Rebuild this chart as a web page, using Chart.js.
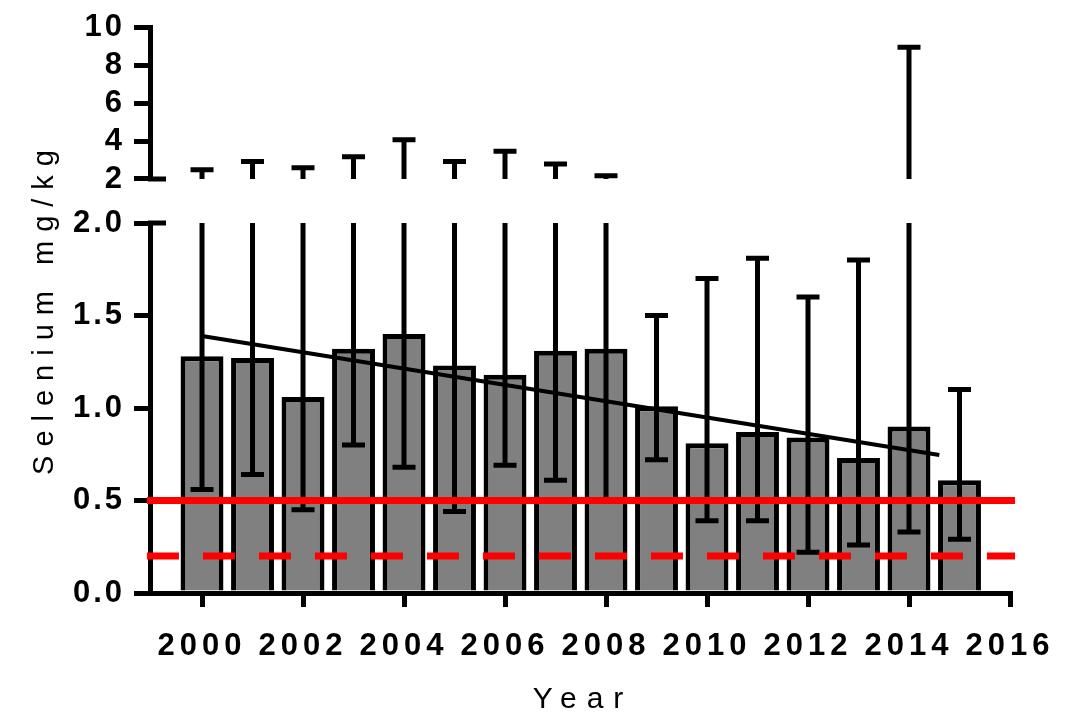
<!DOCTYPE html>
<html>
<head>
<meta charset="utf-8">
<script src="https://cdn.jsdelivr.net/npm/chart.js@4.4.1/dist/chart.umd.min.js"></script>
<style>
  html, body { margin: 0; padding: 0; background: #fff; }
  #wrap { position: relative; width: 1066px; height: 721px; }
  canvas { position: absolute; left: 0; top: 0; }
</style>
</head>
<body>
<div id="wrap">
  <canvas id="lowerChart" width="1066" height="721"></canvas>
  <canvas id="upperChart" width="1066" height="721"></canvas>
</div>
<script>
const years = [2000, 2001, 2002, 2003, 2004, 2005, 2006, 2007, 2008, 2009, 2010, 2011, 2012, 2013, 2014, 2015];
const selenium = [1.28, 1.27, 1.06, 1.32, 1.40, 1.23, 1.18, 1.31, 1.32, 1.01, 0.81, 0.87, 0.84, 0.73, 0.90, 0.61];
const errLow = [0.56, 0.64, 0.45, 0.80, 0.68, 0.44, 0.69, 0.61, 0.50, 0.72, 0.39, 0.39, 0.22, 0.26, 0.33, 0.29];
const errHigh = [2.49, 2.92, 2.60, 3.17, 4.08, 2.92, 3.46, 2.79, 2.17, 1.50, 1.70, 1.81, 1.60, 1.80, 8.96, 1.10];

const trendYears = [2000, 2014.6];
const trendValues = [1.389, 0.746];

const limitYears = [1998.91, 2016.1];
const limitSolid = 0.5;
const limitDashed = 0.2;

const xTicks = [2000, 2002, 2004, 2006, 2008, 2010, 2012, 2014, 2016];
const yTicksLow = [0, 0.5, 1.0, 1.5, 2.0];
const yTicksHigh = [2, 4, 6, 8, 10];

const X_MIN = 1998.97;
const X_MAX = 2016;
const FONT = '"Liberation Sans", Arial, sans-serif';

Chart.defaults.font.family = FONT;
Chart.defaults.color = '#000';

// wrap a scale's draw method so its text gets letter spacing
function spaced(scale, method, ls, dx, dy) {
  const orig = scale[method];
  scale[method] = function (...args) {
    const ctx = this.ctx;
    ctx.save();
    ctx.letterSpacing = ls + 'px';
    ctx.translate(dx, dy);
    orig.apply(this, args);
    ctx.restore();
  };
}

const spacingPlugin = {
  id: 'spacing',
  beforeDraw(chart) {
    if (chart._spaced) return;
    chart._spaced = true;
    const x = chart.scales.x, y = chart.scales.y;
    spaced(x, 'drawLabels', 5, 0, 0);
    spaced(x, 'drawTitle', 10, 3, 0);
    spaced(y, 'drawLabels', 3, 0, 0);
    spaced(y, 'drawTitle', 9, 0, -100);
  }
};

function drawErrors(chart) {
  const ctx = chart.ctx;
  const xs = chart.scales.x, ys = chart.scales.y;
  ctx.save();
  ctx.strokeStyle = '#000';
  ctx.lineWidth = 5;
  years.forEach((yr, i) => {
    const x = xs.getPixelForValue(yr);
    const lo = Math.max(errLow[i], ys.min);
    const hi = Math.min(errHigh[i], ys.max);
    if (hi <= lo) return;
    const yLo = ys.getPixelForValue(lo);
    const yHi = ys.getPixelForValue(hi);
    ctx.beginPath();
    ctx.moveTo(x, yLo);
    ctx.lineTo(x, yHi);
    if (errHigh[i] <= ys.max) {
      ctx.moveTo(x - 11.5, yHi);
      ctx.lineTo(x + 11.5, yHi);
    }
    if (errLow[i] >= ys.min) {
      ctx.moveTo(x - 11.5, yLo);
      ctx.lineTo(x + 11.5, yLo);
    }
    ctx.stroke();
  });
  ctx.restore();
}

const errorPlugin = {
  id: 'errors',
  afterDatasetDraw(chart, args) {
    if (args.index === 0) drawErrors(chart);
  },
  afterDraw(chart, args, opts) {
    // axis break mark
    const ys = chart.scales.y;
    const left = chart.chartArea.left;
    const yPix = ys.getPixelForValue(opts.breakAt);
    const ctx = chart.ctx;
    ctx.save();
    ctx.strokeStyle = '#000';
    ctx.lineWidth = 5;
    ctx.beginPath();
    ctx.moveTo(left - 2, yPix);
    ctx.lineTo(left + 16, yPix);
    ctx.stroke();
    ctx.restore();
  }
};

const tickFont = { family: FONT, size: 31, weight: 'bold' };
const axisGrid = { drawOnChartArea: false, tickLength: 16, tickWidth: 5, tickColor: '#000', lineWidth: 5, color: '#000' };
const axisBorder = { display: true, width: 5, color: '#000' };

function barData() {
  return years.map((x, i) => ({ x: x, y: selenium[i] }));
}

// lower panel: 0 - 2.0
new Chart(document.getElementById('lowerChart'), {
  type: 'bar',
  data: {
    datasets: [
      {
        type: 'bar',
        data: barData(),
        backgroundColor: '#808080',
        borderColor: '#000',
        borderWidth: 5,
        barPercentage: 0.85,
        categoryPercentage: 1,
        order: 10
      },
      {
        type: 'line',
        data: trendYears.map((x, i) => ({ x: x, y: trendValues[i] })),
        borderColor: '#000',
        borderWidth: 4,
        pointRadius: 0,
        order: 5
      },
      {
        type: 'line',
        data: limitYears.map(x => ({ x: x, y: limitSolid })),
        borderColor: '#ff0000',
        borderWidth: 7,
        pointRadius: 0,
        clip: false,
        order: 0
      },
      {
        type: 'line',
        data: limitYears.map(x => ({ x: x, y: limitDashed })),
        borderColor: '#ff0000',
        borderWidth: 7,
        borderDash: [32, 24],
        pointRadius: 0,
        clip: false,
        order: 0
      }
    ]
  },
  options: {
    responsive: false,
    animation: false,
    devicePixelRatio: 1,
    layout: { padding: { left: 0, top: 223, right: 56, bottom: 0 } },
    plugins: {
      legend: { display: false },
      tooltip: { enabled: false },
      errors: { breakAt: 2 }
    },
    scales: {
      x: {
        type: 'linear',
        min: X_MIN,
        max: X_MAX,
        offset: false,
        afterBuildTicks: s => { s.ticks = xTicks.map(v => ({ value: v })); },
        afterFit: s => { s.height = 128; },
        ticks: {
          callback: v => String(v),
          font: { family: FONT, size: 31, weight: 'bold' },
          color: '#000',
          padding: 21,
          maxRotation: 0,
          autoSkip: false
        },
        grid: Object.assign({}, axisGrid, { tickLength: 14, offset: false }),
        border: axisBorder,
        title: {
          display: true,
          text: 'Year',
          font: { family: FONT, size: 30, weight: 'normal' },
          color: '#000',
          padding: { top: 0, bottom: 3 }
        }
      },
      y: {
        min: 0,
        max: 2,
        afterBuildTicks: s => { s.ticks = yTicksLow.map(v => ({ value: v })); },
        afterFit: s => { s.width = 150; },
        ticks: { callback: v => v.toFixed(1), font: tickFont, color: '#000', padding: 9, autoSkip: false },
        grid: axisGrid,
        border: axisBorder,
        title: {
          display: true,
          text: 'Selenium mg/kg',
          font: { family: FONT, size: 29, weight: 'normal' },
          color: '#000',
          padding: { top: 28, bottom: 0 }
        }
      }
    }
  },
  plugins: [spacingPlugin, errorPlugin]
});

// upper panel: 2 - 10
new Chart(document.getElementById('upperChart'), {
  type: 'bar',
  data: {
    datasets: [{
      type: 'bar',
      data: barData(),
      backgroundColor: '#808080',
      borderColor: '#000',
      borderWidth: 5,
      barPercentage: 0.85,
      categoryPercentage: 1
    }]
  },
  options: {
    responsive: false,
    animation: false,
    devicePixelRatio: 1,
    layout: { padding: { left: 0, top: 20, right: 56, bottom: 542 } },
    plugins: {
      legend: { display: false },
      tooltip: { enabled: false },
      errors: { breakAt: 2 }
    },
    scales: {
      x: { type: 'linear', min: X_MIN, max: X_MAX, offset: false, display: false },
      y: {
        min: 2,
        max: 10,
        afterBuildTicks: s => { s.ticks = yTicksHigh.map(v => ({ value: v })); },
        afterFit: s => { s.width = 150; },
        ticks: { callback: v => String(v), font: tickFont, color: '#000', padding: 9, autoSkip: false },
        grid: axisGrid,
        border: axisBorder
      }
    }
  },
  plugins: [spacingPlugin, errorPlugin]
});
</script>
</body>
</html>
